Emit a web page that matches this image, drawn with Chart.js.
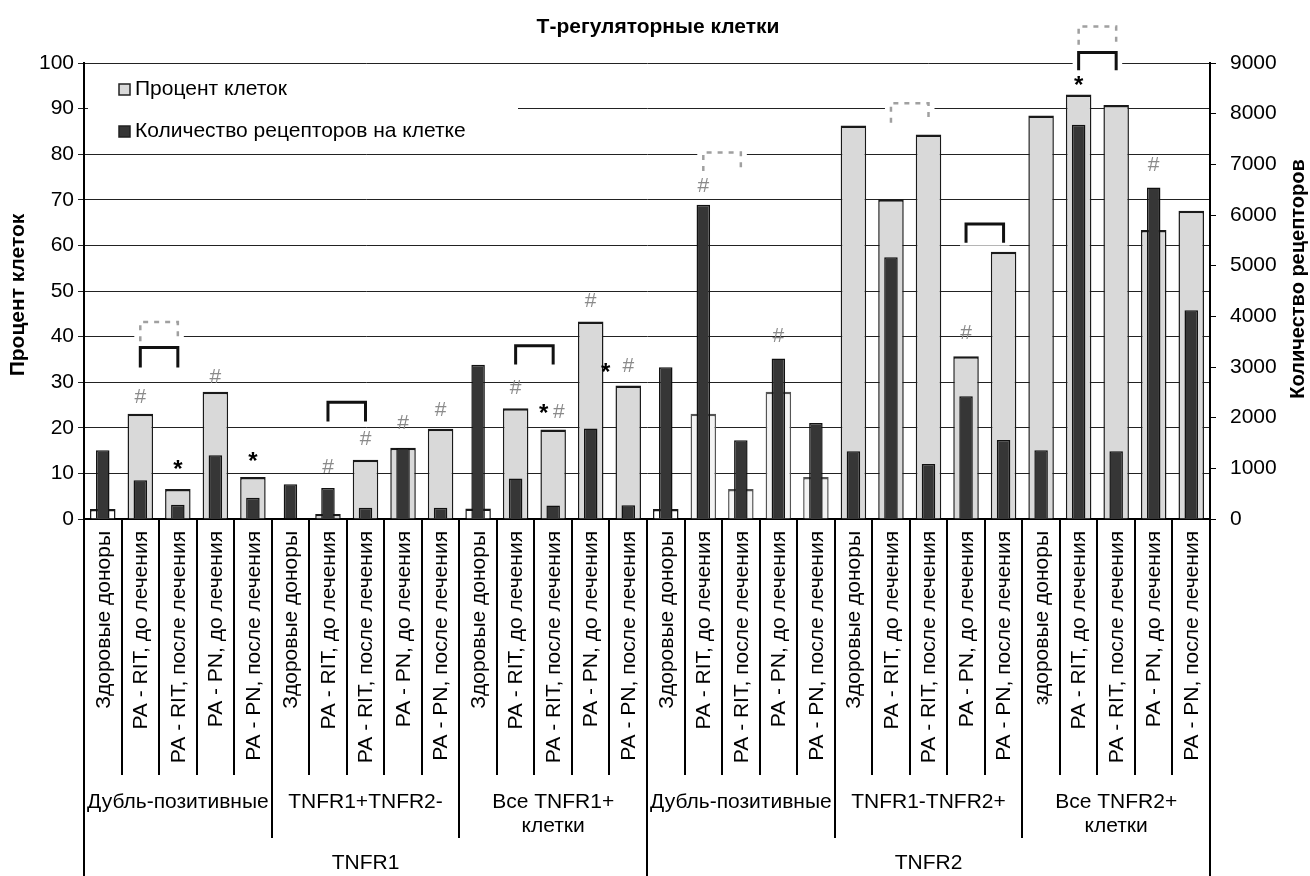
<!DOCTYPE html>
<html>
<head>
<meta charset="utf-8">
<script src="https://cdn.jsdelivr.net/npm/chart.js@4.4.1/dist/chart.umd.min.js"></script>
<style>
  html, body { margin: 0; padding: 0; background: #fff; }
  #wrap { width: 1310px; height: 876px; }
</style>
</head>
<body>
<div id="wrap"><canvas id="c" width="1310" height="876"></canvas></div>
<script>
// T-reg chart: % of cells (light bars, left axis) vs receptors per cell (dark bars, right axis)

const FONT = "'Liberation Sans', Arial, sans-serif";

const subLabels = ['Здоровые доноры', 'PA - RIT, до лечения', 'PA - RIT, после лечения', 'PA - PN, до лечения', 'PA - PN, после лечения'];
const categories = [
  ...subLabels, ...subLabels, ...subLabels,
  ...subLabels, ...subLabels,
  'здоровые доноры', ...subLabels.slice(1),
];
const groupLabels = [
  ['Дубль-позитивные'], ['TNFR1+TNFR2-'], ['Все TNFR1+', 'клетки'],
  ['Дубль-позитивные'], ['TNFR1-TNFR2+'], ['Все TNFR2+', 'клетки'],
];
const topGroups = ['TNFR1', 'TNFR2'];

const percentCells = [
  2.2, 23.1, 6.6, 27.9, 9.2,
  0, 1.1, 13.0, 15.6, 19.8,
  2.3, 24.3, 19.6, 43.3, 29.3,
  2.2, 23.1, 6.6, 27.9, 9.2,
  86.3, 70.1, 84.3, 35.7, 58.6,
  88.5, 93.1, 90.8, 63.4, 67.6,
];
const receptorCount = [
  1357, 765, 283, 1259, 421,
  685, 613, 224, 1403, 224,
  3043, 797, 264, 1785, 270,
  2997, 6200, 1554, 3168, 1897,
  1337, 5166, 1087, 2424, 1561,
  1357, 7782, 1337, 6543, 4118,
];

// significance marks, [category position, height in % units]
const hashMarks = [
  [1, 26.8], [3, 31.2], [6, 11.4], [7, 17.5], [8, 21.0], [9, 23.8],
  [11, 28.6], [12.15, 23.5], [13, 47.7], [14, 33.4],
  [16, 73.0], [18, 40.0], [23, 40.8], [28, 77.5],
];
const starMarks = [
  [2, 11.4], [4, 13.0], [11.75, 23.5], [13.4, 32.5], [26, 95.6],
];
// brackets, [from category, to category, top %, leg end %]
const solidBrackets = [
  [1, 2, 37.6, 33.2], [6, 7, 25.6, 21.4], [11, 12, 38.0, 33.9],
  [23, 24, 64.7, 60.6], [26, 27, 102.3, 98.4],
];
const dashedBrackets = [
  [1, 2, 43.2, 39.0], [16, 17, 80.4, 76.3], [21, 22, 91.2, 86.9], [26, 27, 108.0, 104.0],
];

const LIGHT = '#d9d9d9';
const DARK = '#363636';
// in the scan some percent bars come out almost white
const whiteBars = [0, 10, 15];
const paleBars = [16, 17, 18, 19];
const lightFill = percentCells.map((_, i) => whiteBars.includes(i) ? '#ffffff' : paleBars.includes(i) ? '#f3f3f3' : LIGHT);
const lightEdge = percentCells.map((_, i) => paleBars.includes(i) ? '#555' : '#1a1a1a');

function text(ctx, s, x, y, { size = 19, bold = false, color = '#000', align = 'center', rot = 0 } = {}) {
  ctx.save();
  ctx.translate(x, y);
  if (rot) ctx.rotate(rot);
  ctx.font = (bold ? 'bold ' : '') + size + 'px ' + FONT;
  ctx.fillStyle = color;
  ctx.textAlign = align;
  ctx.textBaseline = 'middle';
  ctx.fillText(s, 0, 0);
  ctx.restore();
}

function bracketBox(chart, b) {
  const x = chart.scales.x, y = chart.scales.y;
  return { x1: x.getPixelForValue(b[0]), x2: x.getPixelForValue(b[1]), top: y.getPixelForValue(b[2]), leg: y.getPixelForValue(b[3]) };
}

function drawBracket(ctx, r) {
  ctx.beginPath();
  ctx.moveTo(r.x1, r.leg); ctx.lineTo(r.x1, r.top); ctx.lineTo(r.x2, r.top); ctx.lineTo(r.x2, r.leg);
  ctx.stroke();
}

const decor = {
  id: 'decor',
  beforeDatasetsDraw(chart) {
    const ctx = chart.ctx, area = chart.chartArea;
    ctx.save();
    // legend sits on a white box over the gridlines
    ctx.fillStyle = '#fff';
    ctx.fillRect(area.left + 4, area.top + 6, 430, 78);
    [...solidBrackets, ...dashedBrackets].forEach(b => {
      const r = bracketBox(chart, b);
      ctx.fillRect(r.x1 - 6, r.top - 5, r.x2 - r.x1 + 12, r.leg - r.top + 8);
    });
    const items = [[chart.data.datasets[0].label, LIGHT, 26], [chart.data.datasets[1].label, DARK, 68]];
    items.forEach(([label, color, dy]) => {
      ctx.fillStyle = color;
      ctx.strokeStyle = '#222';
      ctx.lineWidth = 1.5;
      ctx.fillRect(area.left + 35, area.top + dy - 5, 11, 11);
      ctx.strokeRect(area.left + 35, area.top + dy - 5, 11, 11);
      text(ctx, label, area.left + 51, area.top + dy, { size: 21, align: 'left' });
    });
    ctx.restore();
  },
  afterDatasetsDraw(chart) {
    const ctx = chart.ctx, x = chart.scales.x, y = chart.scales.y;
    ctx.save();
    ctx.lineWidth = 3;
    ctx.strokeStyle = '#111';
    solidBrackets.forEach(b => drawBracket(ctx, bracketBox(chart, b)));
    ctx.strokeStyle = '#a0a0a0';
    ctx.lineWidth = 2.5;
    ctx.setLineDash([5, 6]);
    dashedBrackets.forEach(b => drawBracket(ctx, bracketBox(chart, b)));
    ctx.setLineDash([]);
    hashMarks.forEach(m => text(ctx, '#', x.getPixelForValue(m[0]), y.getPixelForValue(m[1]), { size: 21, color: '#8a8a8a' }));
    starMarks.forEach(m => text(ctx, '*', x.getPixelForValue(m[0]), y.getPixelForValue(m[1]) + 3, { size: 24, bold: true }));
    ctx.restore();
  },
  afterDraw(chart) {
    const ctx = chart.ctx, area = chart.chartArea, x = chart.scales.x;
    const n = categories.length;
    const bottom = chart.height;
    ctx.save();
    // separators of the three label levels
    ctx.strokeStyle = '#000';
    ctx.lineWidth = 2;
    for (let i = 0; i <= n; i++) {
      const px = Math.round(x.getPixelForValue(i - 0.5));
      const len = i % 15 === 0 ? bottom : (i % 5 === 0 ? area.bottom + 319 : area.bottom + 256);
      ctx.beginPath();
      ctx.moveTo(px, area.bottom);
      ctx.lineTo(px, len);
      ctx.stroke();
    }
    categories.forEach((c, i) => {
      text(ctx, c, x.getPixelForValue(i) + 1, area.bottom + 12, { size: 21, align: 'right', rot: -Math.PI / 2 });
    });
    groupLabels.forEach((g, gi) => {
      const cx = x.getPixelForValue(gi * 5 + 2);
      g.forEach((line, li) => text(ctx, line, cx, area.bottom + 283 + li * 24, { size: 21 }));
    });
    topGroups.forEach((t, ti) => {
      text(ctx, t, x.getPixelForValue(ti * 15 + 7), area.bottom + 344, { size: 21 });
    });
    // titles
    text(ctx, 'Т-регуляторные клетки', chart.width / 2 + 3, 27, { size: 21, bold: true });
    const midY = (area.top + area.bottom) / 2;
    text(ctx, 'Процент клеток', 18, midY + 4, { size: 21, bold: true, rot: -Math.PI / 2 });
    text(ctx, 'Количество рецепторов', 1298, midY - 12, { size: 20, bold: true, rot: -Math.PI / 2 });
    ctx.restore();
  },
};

const tickFont = { family: FONT, size: 21 };

new Chart(document.getElementById('c'), {
  type: 'bar',
  data: {
    labels: categories,
    datasets: [
      {
        label: 'Процент клеток',
        data: percentCells,
        yAxisID: 'y',
        backgroundColor: lightFill,
        borderColor: lightEdge,
        borderWidth: { top: 2.5, left: 1.5, right: 1.5, bottom: 0 },
        borderSkipped: false,
        categoryPercentage: 1,
        barPercentage: 0.68,
        order: 2,
      },
      {
        label: 'Количество рецепторов на клетке',
        data: receptorCount,
        yAxisID: 'y2',
        backgroundColor: DARK,
        borderColor: '#111',
        borderWidth: 1.5,
        categoryPercentage: 1,
        barPercentage: 0.36,
        order: 1,
      },
    ],
  },
  options: {
    responsive: false,
    animation: false,
    events: [],
    layout: { padding: { top: 63, left: 0, right: 0, bottom: 0 } },
    plugins: { legend: { display: false }, tooltip: { enabled: false }, title: { display: false } },
    datasets: { bar: { grouped: false } },
    scales: {
      x: {
        grid: { display: false },
        ticks: { display: false },
        border: { color: '#000', width: 2 },
        afterFit(s) { s.height = 357; },
      },
      y: {
        position: 'left',
        min: 0, max: 100,
        ticks: { stepSize: 10, color: '#000', font: tickFont, padding: 4 },
        grid: { color: '#222', lineWidth: 1, tickLength: 6 },
        border: { color: '#000', width: 2 },
        afterFit(s) { s.width = 84; },
      },
      y2: {
        position: 'right',
        min: 0, max: 9000,
        ticks: { stepSize: 1000, color: '#000', font: tickFont, padding: 14, callback: v => String(v) },
        grid: { drawOnChartArea: false, color: '#000', tickLength: 6 },
        border: { color: '#000', width: 2 },
        afterFit(s) { s.width = 100; },
      },
    },
  },
  plugins: [decor],
});
</script>
</body>
</html>
